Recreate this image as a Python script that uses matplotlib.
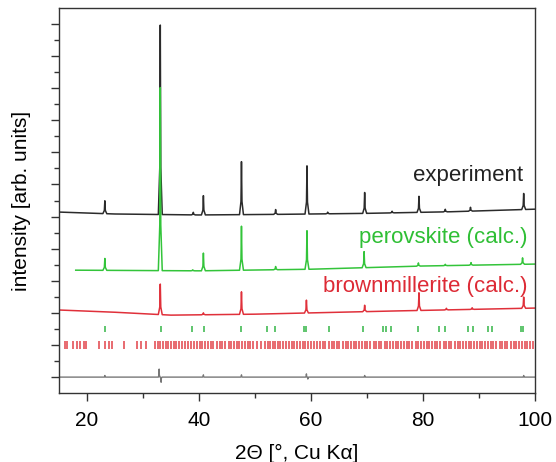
import matplotlib.pyplot as plt
import numpy as np

plt.rcParams['font.family'] = ['Liberation Sans', 'DejaVu Sans']

# baselines (2theta, offset intensity)
exp_base_x = [15, 25, 40, 55, 70, 85, 100]
exp_base_y = [5.14, 5.08, 5.05, 5.07, 5.10, 5.15, 5.23]
perov_base_x = [18, 40, 60, 80, 100]
perov_base_y = [3.33, 3.31, 3.36, 3.46, 3.52]
brown_base_x = [15, 25, 35, 50, 60, 75, 100]
brown_base_y = [2.09, 2.02, 1.93, 1.96, 2.00, 2.06, 2.15]
diff_base_x = [15, 100]
diff_base_y = [0.0, 0.0]

# peaks: position, height above baseline
exp_pos = [23.2, 33.1, 39.0, 40.8, 47.6, 53.7, 59.3, 63.0, 69.6, 74.5, 79.3, 84.0, 88.5, 98.0]
exp_h = [0.40, 5.90, 0.08, 0.60, 1.65, 0.15, 1.50, 0.05, 0.65, 0.05, 0.50, 0.08, 0.12, 0.50]
perov_pos = [23.2, 33.1, 38.9, 40.8, 47.6, 53.7, 59.3, 69.5, 79.2, 84.0, 88.6, 97.8]
perov_h = [0.37, 5.70, 0.03, 0.55, 1.37, 0.10, 1.20, 0.50, 0.10, 0.04, 0.08, 0.20]
brown_pos = [33.1, 40.8, 47.6, 59.2, 69.6, 79.3, 84.2, 88.8, 98.0]
brown_h = [0.95, 0.06, 0.70, 0.40, 0.20, 0.55, 0.05, 0.05, 0.35]
diff_pos = [23.2, 32.9, 33.25, 40.8, 47.6, 59.2, 59.45, 69.6, 98.0]
diff_h = [0.05, 0.25, -0.16, 0.07, 0.07, 0.10, -0.06, 0.05, 0.05]

# reflection markers
perov_ticks = [23.3, 33.2, 38.8, 40.9, 47.6, 52.1, 53.6, 58.8, 59.2, 63.2, 69.3,
               72.8, 73.4, 74.3, 79.1, 82.8, 83.9, 88.0, 88.9, 91.7, 92.4, 97.5, 97.9]
brown_ticks = [16.0, 16.5, 17.6, 18.3, 18.7, 19.4, 19.9, 22.1, 23.3, 23.9, 24.5, 26.6,
               29.0, 29.6, 30.5, 32.2, 32.7, 33.1, 33.6, 34.1, 34.5, 35.0, 35.5, 35.9,
               36.4, 37.0, 37.5, 38.0, 38.6, 39.1, 39.6, 40.2, 40.6, 41.1, 41.6, 42.2,
               42.6, 43.2, 43.8, 44.2, 44.7, 45.3, 45.8, 46.3, 46.8, 47.2, 47.7, 48.3,
               48.7, 49.2, 49.7, 50.3, 51.1, 51.8, 52.3, 52.7, 53.2, 53.6, 54.1, 54.5,
               55.0, 55.5, 56.1, 56.6, 57.0, 57.5, 58.1, 58.5, 59.0, 59.5, 60.1, 60.6,
               61.0, 61.6, 62.1, 62.6, 63.2, 63.7, 64.2, 64.6, 65.1, 65.7, 66.2, 66.6,
               67.2, 67.7, 68.1, 68.6, 69.2, 69.7, 70.1, 70.6, 71.2, 71.7, 72.1, 72.6,
               73.2, 73.6, 74.1, 74.7, 75.2, 75.6, 76.1, 76.7, 77.2, 77.6, 78.1, 78.7,
               79.1, 79.6, 80.2, 80.7, 81.1, 81.6, 82.2, 82.6, 83.1, 83.7, 84.2, 84.6,
               85.1, 85.7, 86.2, 86.6, 87.1, 87.7, 88.2, 88.6, 89.1, 89.7, 90.2, 90.6,
               91.1, 91.7, 92.2, 92.6, 93.1, 93.7, 94.2, 94.6, 95.1, 95.7, 96.2, 96.6,
               97.1, 97.7, 98.2, 98.6, 99.1, 99.6]


def pattern(bx, by, pos, h, hw=0.35):
    xs = list(bx)
    ys = list(by)
    for p, hh in zip(pos, h):
        for dx, f in [(-hw, 0), (-hw / 4, 0.25), (0, 1), (hw / 4, 0.25), (hw, 0)]:
            xs.append(p + dx)
            ys.append(np.interp(p + dx, bx, by) + f * hh)
    order = np.argsort(xs)
    return np.array(xs)[order], np.array(ys)[order]


fig, ax = plt.subplots(figsize=(5.56, 4.62), dpi=100)
fig.subplots_adjust(left=0.106, right=0.962, bottom=0.149, top=0.983)

x, y = pattern(exp_base_x, exp_base_y, exp_pos, exp_h)
ax.plot(x, y, color='#2b2b2b', lw=1.1)
x, y = pattern(perov_base_x, perov_base_y, perov_pos, perov_h)
ax.plot(x, y, color='#33c43a', lw=1.1)
x, y = pattern(brown_base_x, brown_base_y, brown_pos, brown_h)
ax.plot(x, y, color='#e0303a', lw=1.1)
x, y = pattern(diff_base_x, diff_base_y, diff_pos, diff_h, hw=0.15)
ax.plot(x, y, color='#777777', lw=1.0)

ax.vlines(perov_ticks, 1.42, 1.58, color='#44bb55', lw=1.2)
ax.vlines(brown_ticks, 0.87, 1.13, color='#e03a40', lw=1.4, alpha=0.75)

ax.text(97.9, 6.1, 'experiment', color='#222222', fontsize=16, ha='right')
ax.text(98.6, 4.17, 'perovskite (calc.)', color='#2fbf35', fontsize=16, ha='right')
ax.text(98.7, 2.65, 'brownmillerite (calc.)', color='#dd2a35', fontsize=16, ha='right')

ax.set_xlim(15, 100)
ax.set_ylim(-0.5, 11.5)
ax.set_xticks([20, 40, 60, 80, 100])
ax.set_xticks([30, 50, 70, 90], minor=True)
ax.set_yticks(np.arange(0, 12))
ax.set_yticks(np.arange(0.5, 11.5, 1.0), minor=True)
ax.set_yticklabels([])
ax.tick_params(which='major', length=6, width=1, color='#333333', labelsize=15, pad=7)
ax.tick_params(which='minor', length=3.5, width=1, color='#333333')
for s in ax.spines.values():
    s.set_color('#333333')
    s.set_linewidth(1)

ax.set_xlabel('2Θ [°, Cu Kα]', fontsize=15, labelpad=10)
ax.set_ylabel('intensity [arb. units]', fontsize=15, labelpad=7)

plt.savefig('out.png')
